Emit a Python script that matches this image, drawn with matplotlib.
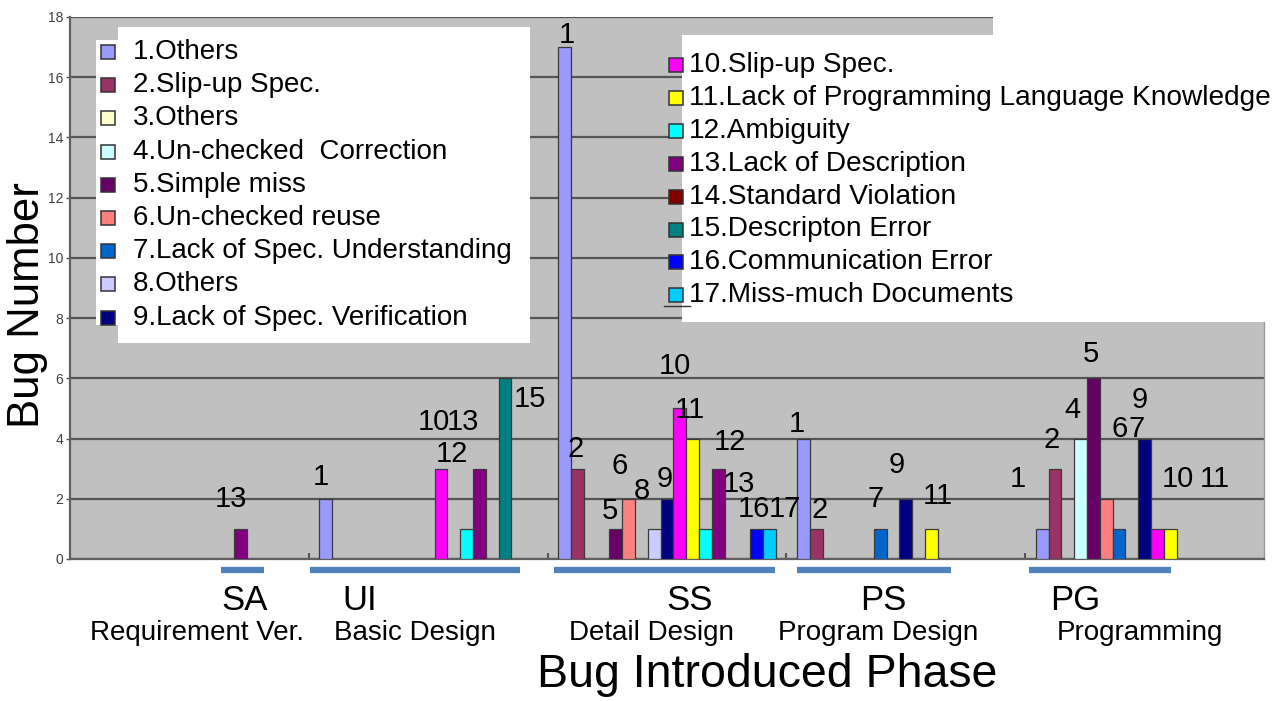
import matplotlib
matplotlib.use("Agg")
import matplotlib.pyplot as plt
from matplotlib.patches import Rectangle
from matplotlib.lines import Line2D
import matplotlib.transforms as mtransforms

plt.rcParams['font.family'] = ['Liberation Sans', 'DejaVu Sans']

# ---------------- data ----------------
phases = ["SA", "UI", "SS", "PS", "PG"]
phase_names = ["Requirement Ver.", "Basic Design", "Detail Design", "Program Design", "Programming"]

series_labels = [
    "1.Others", "2.Slip-up Spec.", "3.Others", "4.Un-checked  Correction",
    "5.Simple miss", "6.Un-checked reuse", "7.Lack of Spec. Understanding",
    "8.Others", "9.Lack of Spec. Verification",
    "10.Slip-up Spec.", "11.Lack of Programming Language Knowledge",
    "12.Ambiguity", "13.Lack of Description", "14.Standard Violation",
    "15.Descripton Error", "16.Communication Error", "17.Miss-much Documents",
]
series_colors = [
    "#9999FF", "#993366", "#FFFFCC", "#CCFFFF", "#660066", "#FF8080",
    "#0066CC", "#CCCCFF", "#000080", "#FF00FF", "#FFFF00", "#00FFFF",
    "#800080", "#800000", "#008080", "#0000FF", "#00CCFF",
]

# bug counts per series (1..17) for each phase
sa_counts = [0, 0, 0, 0, 0, 0, 0, 0, 0, 0, 0, 0, 1, 0, 0, 0, 0]
ui_counts = [2, 0, 0, 0, 0, 0, 0, 0, 0, 3, 0, 1, 3, 0, 6, 0, 0]
ss_counts = [17, 3, 0, 0, 1, 2, 0, 1, 2, 5, 4, 1, 3, 0, 0, 1, 1]
ps_counts = [4, 1, 0, 0, 0, 0, 1, 0, 2, 0, 1, 0, 0, 0, 0, 0, 0]
pg_counts = [1, 3, 0, 4, 6, 2, 1, 0, 4, 1, 1, 0, 0, 0, 0, 0, 0]
phase_counts = [sa_counts, ui_counts, ss_counts, ps_counts, pg_counts]

# data-label offsets (pixels: dx right, up) keyed by (phase, series)
label_offsets = {
    (0, 13): (-10, 30),
    (1, 1): (-5, 22), (1, 10): (-7, 47), (1, 12): (-15, 75),
    (1, 13): (-16, 47), (1, 15): (25, -21),
    (2, 1): (2, 12), (2, 2): (-2, 20), (2, 5): (-6, 18), (2, 6): (-9, 33),
    (2, 8): (-12, 38), (2, 9): (-2, 20), (2, 10): (-5, 42), (2, 11): (-3, 29),
    (2, 12): (25, 87), (2, 13): (21, -15), (2, 16): (-3, 20), (2, 17): (16, 20),
    (3, 1): (-7, 15), (3, 2): (3, 19), (3, 7): (-5, 30), (3, 9): (-9, 34),
    (3, 11): (6, 33),
    (4, 1): (-24, 50), (4, 2): (-3, 29), (4, 4): (-8, 29), (4, 5): (-3, 24),
    (4, 6): (13, 70), (4, 7): (18, 100), (4, 9): (-5, 39), (4, 10): (20, 50),
    (4, 11): (45, 50),
}

# underline spans for each phase (data x)
phase_spans = [(0.633, 0.813), (1.006, 1.886), (2.028, 2.951), (3.043, 3.688), (4.015, 4.610)]
phase_label_x = [0.733, 1.214, 2.596, 3.405, 4.209]
phase_name_x = [0.532, 1.445, 2.433, 3.384, 4.481]

# ---------------- figure ----------------
W, H = 1282, 701
fig = plt.figure(figsize=(W / 100, H / 100), dpi=100)
fig.patch.set_facecolor("white")


def fx(x):
    return x / W


def fy(y):
    return 1 - y / H


ax = fig.add_axes([fx(70), fy(559), (1264 - 70) / W, (559 - 17) / H])
ax.set_facecolor("#C0C0C0")

n = len(series_labels)
bw = 1 / 18.67
half_gap = (1 - n * bw) / 2

for j in range(n):
    xs, hs = [], []
    for i, counts in enumerate(phase_counts):
        if counts[j] > 0:
            xs.append(i + half_gap + j * bw)
            hs.append(counts[j])
    if xs:
        ax.bar(xs, hs, width=bw, align="edge", color=series_colors[j],
               edgecolor="#3a3a3a", linewidth=0.9, zorder=3)

# data labels (series numbers)
for (i, s), (dx, up) in label_offsets.items():
    v = phase_counts[i][s - 1]
    xc = i + half_gap + (s - 1 + 0.5) * bw
    ax.annotate(str(s), xy=(xc, v), xytext=(dx * 0.72, up * 0.72),
                textcoords="offset points", ha="center", va="center",
                fontsize=21, color="black", zorder=5, annotation_clip=False)

ax.set_xlim(0, 5)
ax.set_ylim(0, 18)
ax.set_yticks(range(0, 19, 2))
ax.yaxis.grid(True, color="#555555", linewidth=1.6, zorder=1)
ax.set_axisbelow(True)
ax.tick_params(axis="y", labelsize=10, labelcolor="#404040", length=3,
               color="#555555", width=1, pad=2)
ax.set_xticks([1, 2, 3, 4])
ax.set_xticklabels([])
ax.tick_params(axis="x", direction="in", length=4, color="#555555", width=1.5)
for side in ["left", "bottom"]:
    ax.spines[side].set_color("#606060")
    ax.spines[side].set_linewidth(1.6)
ax.spines["top"].set_visible(False)
ax.spines["right"].set_color("#9a9a9a")
ax.spines["right"].set_linewidth(1.0)

# phase underline bars
trans = mtransforms.blended_transform_factory(ax.transData, ax.transAxes)
for (a, b) in phase_spans:
    ax.plot([a, b], [-0.0203, -0.0203], color="#4F81BD", linewidth=4.5,
            solid_capstyle="butt", transform=trans, clip_on=False)

transf = mtransforms.blended_transform_factory(ax.transData, fig.transFigure)
for name, xp in zip(phases, phase_label_x):
    fig.text(xp, fy(600), name, transform=transf, ha="center", va="center", fontsize=25)
for name, xp in zip(phase_names, phase_name_x):
    fig.text(xp, fy(633), name, transform=transf, ha="center", va="center", fontsize=20)

fig.text(fx(767), fy(675), "Bug Introduced Phase", ha="center", va="center", fontsize=33.5)
fig.text(fx(28), fy(305), "Bug Number", ha="center", va="center", fontsize=31.5, rotation=90)

# ---------------- legends (drawn manually) ----------------
def white_box(x0, y0, x1, y1):
    fig.patches.append(Rectangle((fx(x0), fy(y1)), fx(x1) - fx(x0), fy(y0) - fy(y1),
                                 transform=fig.transFigure, facecolor="white",
                                 edgecolor="none", zorder=2))

white_box(118, 27, 530, 343)
white_box(96, 40, 118, 325)
white_box(682, 35, W, 322)
white_box(993, 0, W, 35)

msz = 14
for k in range(9):
    yc = 52 + 33.2 * k
    fig.patches.append(Rectangle((fx(101), fy(yc + msz / 2)), msz / W, msz / H,
                                 transform=fig.transFigure, facecolor=series_colors[k],
                                 edgecolor="#333333", linewidth=1.1, zorder=3))
    fig.text(fx(133), fy(yc), series_labels[k], ha="left", va="center",
             fontsize=20, zorder=4)

for k in range(9, 17):
    yc = 65 + 32.9 * (k - 9)
    fig.patches.append(Rectangle((fx(669), fy(yc + msz / 2)), msz / W, msz / H,
                                 transform=fig.transFigure, facecolor=series_colors[k],
                                 edgecolor="#333333", linewidth=1.1, zorder=3))
    fig.text(fx(689), fy(yc), series_labels[k], ha="left", va="center",
             fontsize=20.2, zorder=4)

fig.lines.append(Line2D([fx(664), fx(690)], [fy(306), fy(306)], transform=fig.transFigure,
                        color="#333333", linewidth=1.0, zorder=3))

fig.savefig("out.png", dpi=100)
